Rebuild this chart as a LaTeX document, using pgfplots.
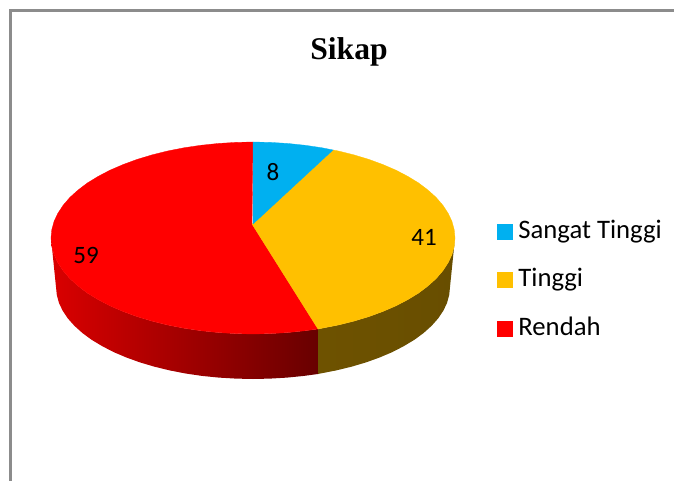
\documentclass[border=0pt]{standalone}
\usepackage{pgfplots}
\pgfplotsset{compat=1.18}
\usepackage{fontspec}
\setmainfont{Carlito}
\newfontfamily\titlefont{Liberation Serif}
\definecolor{cySeg}{RGB}{0,176,240}
\definecolor{yeSeg}{RGB}{255,192,0}
\definecolor{reSeg}{RGB}{255,0,0}
\definecolor{frameC}{RGB}{140,140,140}
\definecolor{reL}{RGB}{218,0,0}
\definecolor{reR}{RGB}{104,0,0}
\definecolor{yeL}{RGB}{110,82,0}
\definecolor{yeR}{RGB}{104,78,0}
\begin{document}
\begin{tikzpicture}
\path[use as bounding box] (0,0) rectangle (674pt,481pt);
\begin{axis}[
  at={(0,0)}, anchor=south west,
  width=674pt, height=481pt, scale only axis,
  xmin=0, xmax=674, ymin=0, ymax=481, y dir=reverse,
  hide axis, clip=true,
  legend style={at={(axis cs:497,220)}, anchor=north west, draw=none, fill=none,
    font=\fontsize{26.7}{26.7}\selectfont, inner sep=0pt, outer sep=0pt,
    row sep=24.5pt, nodes={inner sep=0pt, anchor=base west, text height=18pt, text depth=6pt}},
  legend cell align=left,
  legend image code/.code={\fill[#1] (0pt,-1pt) rectangle (15pt,14pt); \path (21pt,0pt);},
]
% frame
\addplot[forget plot, frameC, line width=3pt, mark=none] coordinates {(10.5,490)(10.5,10.5)(690,10.5)};
% side of red slice
\addplot[forget plot, draw=none, left color=reL, right color=reR, mark=none] coordinates {
 (51,238)(51.8,246.4)(54.1,254.7)(57.9,262.8)(63.2,270.8)(69.9,278.6)(78.1,286)(87.5,293.1)(98.3,299.7)(110.2,305.9)(123.2,311.5)(137.1,316.6)(152,321.1)(167.6,325)(183.9,328.2)(200.7,330.7)(217.9,332.5)(235.4,333.6)(253,334)(270.6,333.6)(288.1,332.5)(305.3,330.7)(318,329)
 (318,374)(304,375.9)(287.2,377.6)(270.2,378.6)(253,379)(235.8,378.6)(218.8,377.6)(202,375.9)(185.6,373.5)(169.7,370.4)(154.5,366.7)(140,362.4)(126.4,357.5)(113.7,352.1)(102.1,346.1)(91.6,339.8)(82.4,333)(74.5,325.9)(67.9,318.5)(62.7,310.8)(59,303)(56.8,295)(56,287)
} -- cycle;
% side of yellow slice
\addplot[forget plot, draw=none, left color=yeL, right color=yeR, mark=none] coordinates {
 (318,329)(322.1,328.2)(338.4,325)(354,321.1)(368.9,316.6)(382.8,311.5)(395.8,305.9)(407.7,299.7)(418.5,293.1)(427.9,286)(436.1,278.6)(442.8,270.8)(448.1,262.8)(451.9,254.7)(454.2,246.4)(455,238)
 (450,287)(449.2,295)(447,303)(443.3,310.8)(438.1,318.5)(431.5,325.9)(423.6,333)(414.4,339.8)(403.9,346.1)(392.3,352.1)(379.6,357.5)(366,362.4)(351.5,366.7)(336.3,370.4)(320.4,373.5)(318,374)
} -- cycle;
% top faces
\addplot[forget plot, fill=reSeg, draw=reSeg, line width=0.3pt, mark=none] coordinates {
 (252,224)(253,142)(235.4,142.4)(217.9,143.5)(200.7,145.3)(183.9,147.8)(167.6,151)(152,154.9)(137.1,159.4)(123.2,164.5)(110.2,170.1)(98.3,176.3)(87.5,182.9)(78.1,190)(69.9,197.4)(63.2,205.2)(57.9,213.2)(54.1,221.3)(51.8,229.6)(51,238)(51.8,246.4)(54.1,254.7)(57.9,262.8)(63.2,270.8)(69.9,278.6)(78.1,286)(87.5,293.1)(98.3,299.7)(110.2,305.9)(123.2,311.5)(137.1,316.6)(152,321.1)(167.6,325)(183.9,328.2)(200.7,330.7)(217.9,332.5)(235.4,333.6)(253,334)(270.6,333.6)(288.1,332.5)(305.3,330.7)(318,329)
} -- cycle;
\addplot[forget plot, fill=yeSeg, draw=yeSeg, line width=0.3pt, mark=none] coordinates {
 (252,224)(333,150)(338.4,151)(354,154.9)(368.9,159.4)(382.8,164.5)(395.8,170.1)(407.7,176.3)(418.5,182.9)(427.9,190)(436.1,197.4)(442.8,205.2)(448.1,213.2)(451.9,221.3)(454.2,229.6)(455,238)(454.2,246.4)(451.9,254.7)(448.1,262.8)(442.8,270.8)(436.1,278.6)(427.9,286)(418.5,293.1)(407.7,299.7)(395.8,305.9)(382.8,311.5)(368.9,316.6)(354,321.1)(338.4,325)(322.1,328.2)(318,329)
} -- cycle;
\addplot[forget plot, fill=cySeg, draw=cySeg, line width=0.3pt, mark=none] coordinates {
 (253,224)(253,142)(270.6,142.4)(288.1,143.5)(305.3,145.3)(322.1,147.8)(333,150)
} -- cycle;
% legend
\addlegendimage{cySeg}
\addlegendimage{yeSeg}
\addlegendimage{reSeg}
\legend{Sangat Tinggi,Tinggi,Rendah}
% labels
\node[font=\fontsize{25}{25}\selectfont, inner sep=0pt] at (axis cs:273,172) {8};
\node[font=\fontsize{25}{25}\selectfont, inner sep=0pt] at (axis cs:424,237) {41};
\node[font=\fontsize{25}{25}\selectfont, inner sep=0pt] at (axis cs:86,255) {59};
\node[font=\fontsize{31.6}{31.6}\selectfont\titlefont\bfseries, inner sep=0pt] at (axis cs:349,52) {Sikap};
\end{axis}
\end{tikzpicture}
\end{document}
